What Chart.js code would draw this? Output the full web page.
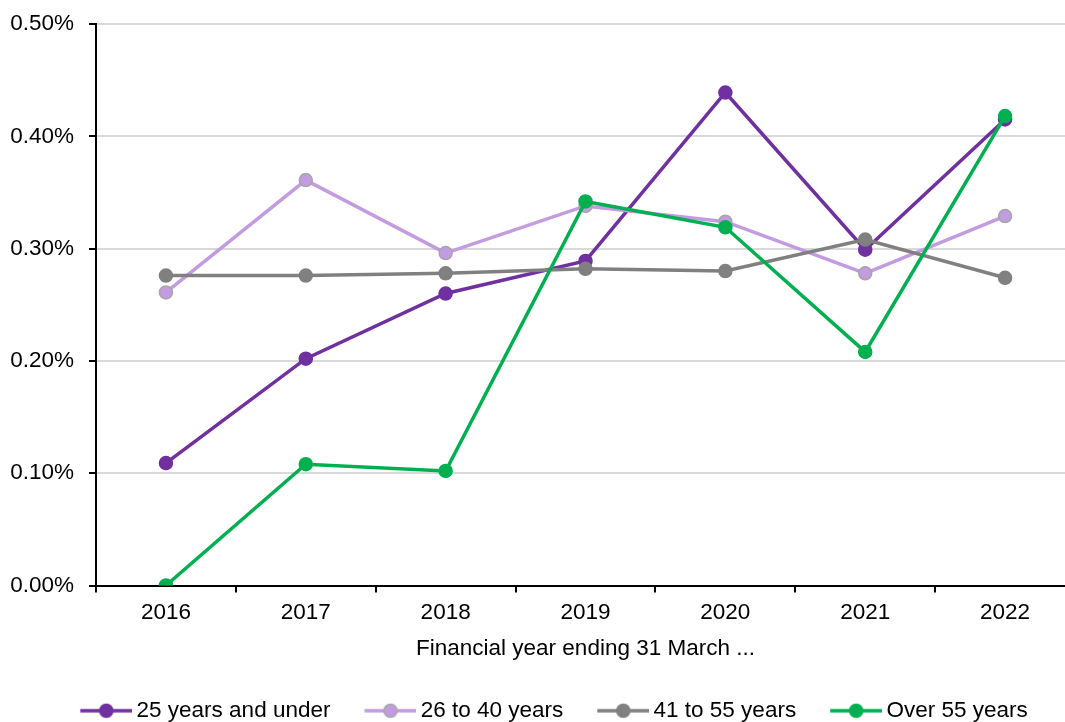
<!DOCTYPE html>
<html>
<head>
<meta charset="utf-8">
<script src="https://cdn.jsdelivr.net/npm/chart.js@4"></script>
<style>
  html, body { margin: 0; padding: 0; background: #fff; overflow: hidden; }
  #wrap { position: relative; width: 1085px; height: 722px; }
</style>
</head>
<body>
<div id="wrap"><canvas id="chart"></canvas></div>
<script>
// financial year ending 31 March
const years = ['2016', '2017', '2018', '2019', '2020', '2021', '2022'];

// rates in percent
const under25 = [0.109, 0.202, 0.260, 0.289, 0.439, 0.299, 0.415];
const age26to40 = [0.261, 0.361, 0.296, 0.338, 0.324, 0.278, 0.329];
const age41to55 = [0.276, 0.276, 0.278, 0.282, 0.280, 0.308, 0.274];
const over55 = [0.000, 0.108, 0.102, 0.342, 0.319, 0.208, 0.418];

const seriesNames = ['25 years and under', '26 to 40 years', '41 to 55 years', 'Over 55 years'];
const lineColors = ['#7030a0', '#c39be1', '#808080', '#00b050'];
const markerBorders = ['#7030a0', '#a6a6a6', '#808080', '#00b050'];

// legend marker: a short line with a dot, like the excel legend
function legendMarker(color, border) {
  const c = document.createElement('canvas');
  c.width = 92;
  c.height = 18;
  const ctx = c.getContext('2d');
  ctx.strokeStyle = color;
  ctx.lineWidth = 3.5;
  ctx.beginPath();
  ctx.moveTo(40, 9);
  ctx.lineTo(92, 9);
  ctx.stroke();
  ctx.fillStyle = color;
  ctx.strokeStyle = border;
  ctx.lineWidth = 1.5;
  ctx.beginPath();
  ctx.arc(66, 9, 6.5, 0, Math.PI * 2);
  ctx.fill();
  ctx.stroke();
  return c;
}

Chart.defaults.font.family = "'Liberation Sans', Arial, sans-serif";
Chart.defaults.font.size = 22.5;
Chart.defaults.color = '#000';

const values = [under25, age26to40, age41to55, over55];

new Chart(document.getElementById('chart'), {
  type: 'line',
  data: {
    labels: years,
    datasets: values.map((v, i) => ({
      label: seriesNames[i],
      data: v,
      borderColor: lineColors[i],
      backgroundColor: lineColors[i],
      pointBackgroundColor: lineColors[i],
      pointBorderColor: markerBorders[i],
      pointBorderWidth: 1.5,
      pointRadius: 6.5,
      borderWidth: 3.5,
      tension: 0,
      order: 4 - i,
      pointStyle: 'circle'
    }))
  },
  options: {
    responsive: true,
    maintainAspectRatio: false,
    animation: false,
    layout: { padding: { top: 24, left: 0, right: 10, bottom: -10 } },
    plugins: {
      tooltip: { enabled: false },
      legend: {
        position: 'bottom',
        labels: {
          usePointStyle: true,
          pointStyleWidth: 78,
          padding: 1,
          generateLabels: chart => chart.data.datasets.map((ds, i) => ({
            text: ds.label,
            pointStyle: legendMarker(lineColors[i], markerBorders[i]),
            fillStyle: lineColors[i],
            strokeStyle: lineColors[i],
            lineWidth: 0,
            hidden: false,
            datasetIndex: i
          }))
        }
      }
    },
    scales: {
      x: {
        offset: true,
        grid: {
          display: true,
          drawOnChartArea: false,
          offset: true,
          tickLength: 7,
          tickColor: '#000',
          lineWidth: 2
        },
        border: { display: true, color: '#000', width: 2 },
        ticks: { padding: 7 },
        title: {
          display: true,
          text: 'Financial year ending 31 March ...',
          padding: { top: 2, bottom: 36 }
        }
      },
      y: {
        min: 0,
        max: 0.5,
        afterFit: scale => {
          scale.width = 96;
          scale.paddingTop = 0;
          scale.paddingBottom = 0;
        },
        grid: {
          color: '#d9d9d9',
          lineWidth: 2,
          tickLength: 7,
          tickColor: '#000'
        },
        border: { display: true, color: '#000', width: 2 },
        ticks: {
          stepSize: 0.1,
          padding: 15,
          callback: v => v.toFixed(2) + '%'
        }
      }
    }
  }
});
</script>
</body>
</html>
